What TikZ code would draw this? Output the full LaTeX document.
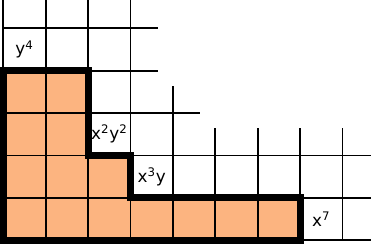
\documentclass[tikz,border=0pt]{standalone}
\usepackage{fontspec}
\setmainfont{DejaVu Sans}
\definecolor{cellfill}{RGB}{252,180,128}
\begin{document}
\begin{tikzpicture}[x=1cm,y=1cm,
  thin grid/.style={line width=1.3pt, black},
  boundary/.style={line width=4.8pt, black, line join=miter},
  mono/.style={font=\fontsize{11.3}{13}\selectfont, inner sep=0pt}]
\useasboundingbox (-0.078,-0.111) rectangle (8.672,5.667);
% filled staircase
\fill[cellfill] (0,0) -- (7,0) -- (7,1) -- (3,1) -- (3,2) -- (2,2) -- (2,4) -- (0,4) -- cycle;
% grid lines
\foreach \i in {0,1,2,3} \draw[thin grid] (\i,0) -- (\i,5.8);
\draw[thin grid] (4,0) -- (4,3.65);
\foreach \i in {5,6,7,8} \draw[thin grid] (\i,0) -- (\i,2.65);
\foreach \j in {0,1,2} \draw[thin grid] (0,\j) -- (8.8,\j);
\draw[thin grid] (0,3) -- (4.65,3);
\foreach \j in {4,5} \draw[thin grid] (0,\j) -- (3.65,\j);
% boundary
\draw[boundary] (0,0) -- (7,0) -- (7,1) -- (3,1) -- (3,2) -- (2,2) -- (2,4) -- (0,4) -- cycle;
% labels
\node[mono] (y4) at (0.5,4.5) {y\textsuperscript{4}};
\node[mono] (x2y2) at (2.5,2.5) {x\textsuperscript{2}y\textsuperscript{2}};
\node[mono] (x3y) at (3.5,1.5) {x\textsuperscript{3}y};
\node[mono] (x7) at (7.5,0.5) {x\textsuperscript{7}};
\end{tikzpicture}
\end{document}
